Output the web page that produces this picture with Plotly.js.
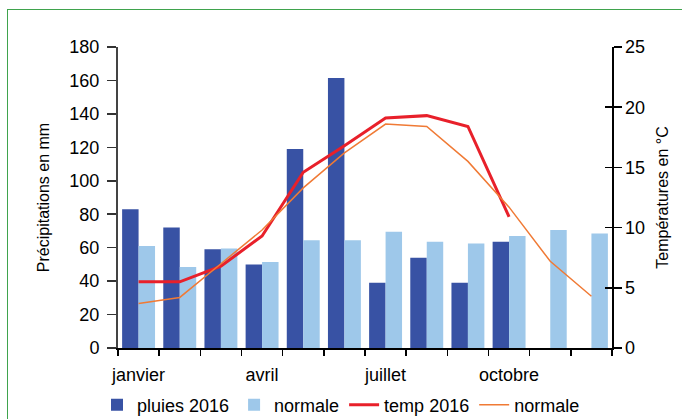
<!DOCTYPE html>
<html>
<head>
<meta charset="utf-8">
<script src="https://cdn.plot.ly/plotly-3.0.1.min.js"></script>
<style>
html,body{margin:0;padding:0;background:#fff;overflow:hidden;}
#wrap{position:relative;width:682px;height:419px;}
#chart{width:682px;height:419px;}
#frame{position:absolute;left:7px;top:9px;width:700px;height:430px;border:1.5px solid #3fa34d;pointer-events:none;}
</style>
</head>
<body>
<div id="wrap">
<div id="chart"></div>
<div id="frame"></div>
</div>
<script>
const months = ['janvier','février','mars','avril','mai','juin','juillet','août','septembre','octobre','novembre','décembre'];
const tickLabels = ['janvier','','','avril','','','juillet','','','octobre','',''];
const pluies2016 = [83, 72, 59, 50, 119, 161.5, 39, 54, 39, 63.5];
const pluiesNormale = [61, 48.5, 59.5, 51.5, 64.5, 64.5, 69.5, 63.5, 62.5, 67, 70.5, 68.5];
const temp2016 = [5.5, 5.5, 6.8, 9.3, 14.6, 16.8, 19.1, 19.3, 18.4, 10.9];
const tempNormale = [3.7, 4.2, 7.0, 9.8, 13.3, 16.2, 18.6, 18.4, 15.5, 11.7, 7.2, 4.3];

const font = 'Liberation Sans, Arial, sans-serif';

const traces = [
  {type:'bar', name:'pluies 2016', x:months.slice(0, pluies2016.length), y:pluies2016,
   marker:{color:'#3852a4'}, yaxis:'y', xaxis:'x'},
  {type:'bar', name:'normale', x:months, y:pluiesNormale,
   marker:{color:'#9ec8ea'}, yaxis:'y', xaxis:'x'},
  {type:'scatter', mode:'lines', name:'temp 2016', x:months.slice(0, temp2016.length), y:temp2016,
   line:{color:'#e8202a', width:3}, yaxis:'y2', xaxis:'x'},
  {type:'scatter', mode:'lines', name:'normale', x:months, y:tempNormale,
   line:{color:'#f07a35', width:1.5}, yaxis:'y3', xaxis:'x'}
];

const layout = {
  width:682, height:419,
  margin:{l:118, r:70, t:47, b:71},
  paper_bgcolor:'#fff', plot_bgcolor:'#fff',
  font:{family:font, size:18, color:'#000'},
  barmode:'group', bargap:0.2, bargroupgap:0,
  showlegend:true,
  legend:{orientation:'h', xref:'container', yref:'container',
          x:0.5, xanchor:'center', y:0.033, yanchor:'middle',
          font:{family:font, size:18}, itemwidth:30, tracegroupgap:0, traceorder:'normal'},
  xaxis:{type:'category', categoryorder:'array', categoryarray:months,
         range:[-0.5, 11.5], tickson:'boundaries', tickmode:'array', tickvals:months, ticktext:tickLabels,
         ticks:'outside', ticklen:6, tickwidth:1.5, tickcolor:'#000',
         ticklabelstandoff:10, tickfont:{family:font, size:18}, tickangle:0,
         showline:true, linecolor:'#000', linewidth:1.5,
         showgrid:false, zeroline:false, fixedrange:true},
  yaxis:{range:[0,180], tickmode:'linear', tick0:0, dtick:20,
         ticks:'outside', ticklen:9, tickwidth:1.5, tickcolor:'#333',
         ticklabelstandoff:4,
         showline:true, linecolor:'#444', linewidth:2,
         showgrid:false, zeroline:false,
         tickfont:{family:font, size:18},
         title:{text:'Précipitations en mm', font:{family:font, size:16}, standoff:16}},
  yaxis2:{overlaying:'y', side:'right', anchor:'x', range:[0,25], tickmode:'linear', tick0:0, dtick:5,
          ticks:'outside', ticklen:8, tickwidth:1.5, tickcolor:'#000',
          showline:true, linecolor:'#000', linewidth:1.5,
          showgrid:false, zeroline:false,
          tickfont:{family:font, size:18},
          title:{text:'Températures en °C', font:{family:font, size:16}, standoff:12}},
  yaxis3:{overlaying:'y', side:'right', anchor:'x', range:[0,25], tickmode:'linear', tick0:0, dtick:5,
          ticks:'inside', ticklen:7, tickwidth:1.5, tickcolor:'#000',
          showticklabels:false, showline:false, showgrid:false, zeroline:false}
};

Plotly.newPlot('chart', traces, layout, {displayModeBar:false, staticPlot:true});
</script>
</body>
</html>
